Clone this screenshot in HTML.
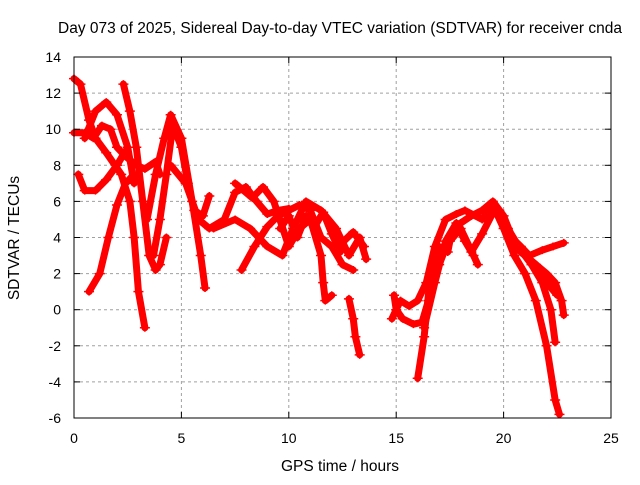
<!DOCTYPE html>
<html><head><meta charset="utf-8"><style>
body{margin:0;background:#fff;}
svg text{font-family:"Liberation Sans",sans-serif;font-size:14px;fill:#000;}
svg text.big{font-size:15.5px;}
</style></head><body>
<svg id="chart" width="640" height="480" viewBox="0 0 640 480" xmlns="http://www.w3.org/2000/svg">
<rect width="640" height="480" fill="#fff"/>
<text class="big" x="340" y="33" text-anchor="middle">Day 073 of 2025, Sidereal Day-to-day VTEC variation (SDTVAR) for receiver cnda</text>
<g id="grid"></g>
<g id="series"></g>
<rect x="74" y="57" width="537" height="361" fill="none" stroke="#000" stroke-width="1"/>
<g id="ticks"></g>
<text class="big" x="340" y="471" text-anchor="middle">GPS time / hours</text>
<text class="big" transform="translate(19,238) rotate(-90)" text-anchor="middle">SDTVAR / TECUs</text>
</svg>
<script>
const xTicks=[0,5,10,15,20,25];
const yTicks=[-6,-4,-2,0,2,4,6,8,10,12,14];
const trackA=[[0,12.8],[0.3,12.5],[0.7,10.5],[1.0,9.5],[1.5,8.7],[2.2,7.5],[2.6,6],[2.8,4],[3.0,1],[3.3,-1]];
const trackB=[[0,9.8],[0.5,9.8],[0.9,9.5],[1.3,10.2],[1.7,10],[2.0,9],[2.4,8.5],[2.9,8],[3.3,7.8],[3.8,8.2],[4.0,7.5]];
const trackC=[[0.2,7.5],[0.5,6.6],[1.0,6.6],[1.5,7.2],[2.0,8],[2.4,8.8]];
const trackD=[[0.7,1],[1.2,2],[1.6,4],[2.0,5.8],[2.4,7],[2.8,7.5]];
const trackE=[[2.3,12.5],[2.6,11],[2.9,9],[3.2,6],[3.5,3],[3.8,2.2],[4.0,2.5],[4.3,4]];
const trackF=[[0.5,9.5],[1.0,11],[1.5,11.5],[2.0,10.8],[2.5,9],[2.8,7]];
const trackG=[[3.4,5],[3.8,7.5],[4.2,9.5],[4.5,10.8],[5.0,9.5],[5.5,6],[5.9,3],[6.1,1.2]];
const trackH=[[3.7,3],[4.0,5],[4.3,7.5],[4.6,10.2],[5.0,9],[5.3,7],[5.6,5.5],[6.0,5.2],[6.3,6.3]];
const trackI=[[4.5,8],[5.2,7],[5.8,5],[6.3,4.5],[7.0,5],[7.5,6.5],[8.0,6.8],[8.5,6],[9.0,5.3],[9.5,5.5],[10.0,5.6]];
const trackJ=[[7.8,2.2],[8.4,3.5],[9.0,4.6],[9.5,5.2],[10.5,5.8],[11,5.5],[11.5,4],[12,3.5],[12.5,2.5],[13.0,2.2]];
const trackK=[[7.5,7],[8.3,6.2],[8.8,6.8],[9.3,6],[10,3.5],[10.5,4.5],[11,5],[11.5,3],[11.6,1.5],[11.7,0.5],[12,0.8]];
const trackL=[[6.5,4.5],[7.5,5],[8.2,4.5],[9.0,3.5],[9.7,3],[10.2,4.5],[10.8,6],[11.5,5.5],[12.2,4.5],[12.8,3],[13.3,4],[13.6,2.8]];
const trackM=[[12.8,0.6],[13.0,-0.5],[13.1,-1.5],[13.3,-2.5]];
const trackN=[[12.3,3.5],[13,4.3],[13.5,3.5]];
const trackO=[[9.6,4.5],[10.0,5.2],[10.4,4.0],[10.8,5.2],[11.2,4.6],[11.6,5.4],[12.0,4.2],[12.4,3.2]];
const trackP=[[14.9,0.8],[15.0,0],[15.3,-0.5],[15.8,-0.8],[16.2,-0.7],[16.5,0.5],[17,2.5],[17.5,4],[18,4.8],[18.5,5.2],[19,5.5],[19.5,6],[20,5.2],[20.4,4],[21,3],[21.5,2.5],[22,1.5],[22.5,0.8]];
const trackQ=[[14.8,-0.5],[15.2,0.5],[15.6,0.2],[16.0,0.5],[16.4,1.5],[16.8,3.5],[17.3,5],[17.8,5.3],[18.2,5.5],[19,5],[19.5,5.8],[20,4.5],[20.5,3],[21,2],[21.5,0.5],[22,-2],[22.4,-5],[22.6,-5.8]];
const trackR=[[16.0,-3.8],[16.3,-1.5],[16.6,2],[17,3.5],[17.4,3.2],[17.5,3.8],[18,4.5],[18.6,3],[18.8,2.5]];
const trackS=[[16.3,-1.0],[16.8,1.5],[17.3,3.8],[17.8,4.8],[18.2,3.8],[18.5,3.2],[19,4.2],[19.6,5.6],[20.2,4.5],[20.8,3.3],[21.3,2.5],[21.8,1.5],[22.2,0],[22.4,-1.8]];
const trackT=[[19.2,5.5],[19.8,5.5],[20.2,4.2],[20.8,3.5],[21.2,3.0],[21.8,3.3],[22.3,3.5],[22.8,3.7]];
const trackU=[[20.5,3.5],[21.5,2.5],[22,2],[22.4,1.5],[22.7,0.5],[22.8,-0.3]];
const tracks=[trackA,trackB,trackC,trackD,trackE,trackF,trackG,trackH,trackI,trackJ,trackK,trackL,trackM,trackN,trackO,trackP,trackQ,trackR,trackS,trackT,trackU];

const X0=74,X1=611,Y0=418,Y1=57;
const xs=v=>X0+(v-0)/(25-0)*(X1-X0);
const ys=v=>Y0-(v-(-6))/(14-(-6))*(Y0-Y1);
const NS="http://www.w3.org/2000/svg";
const grid=document.getElementById('grid'),ticks=document.getElementById('ticks'),series=document.getElementById('series');
function mk(tag,attrs,parent){const e=document.createElementNS(NS,tag);for(const k in attrs)e.setAttribute(k,attrs[k]);parent.appendChild(e);return e;}
xTicks.forEach(t=>{
  const x=xs(t);
  if(t>0&&t<25){const g=mk('line',{x1:x,x2:x,y1:Y1,y2:Y0,stroke:'#a0a0a0','stroke-dasharray':'3,3'},grid);
  
  }
  mk('line',{x1:x,x2:x,y1:Y0,y2:Y0-6,stroke:'#000'},ticks);
  mk('line',{x1:x,x2:x,y1:Y1,y2:Y1+6,stroke:'#000'},ticks);
  const l=mk('text',{x:x,y:Y0+25,'text-anchor':'middle'},ticks);l.textContent=t;
  
  
});
yTicks.forEach(t=>{
  const y=ys(t);
  if(t>-6&&t<14){const g=mk('line',{x1:X0,x2:X1,y1:y,y2:y,stroke:'#a0a0a0','stroke-dasharray':'3,3'},grid);
  
  }
  mk('line',{x1:X0,x2:X0+6,y1:y,y2:y,stroke:'#000'},ticks);
  mk('line',{x1:X1,x2:X1-6,y1:y,y2:y,stroke:'#000'},ticks);
  const l=mk('text',{x:X0-13,y:y+5,'text-anchor':'end'},ticks);l.textContent=t;
  
  
});
tracks.forEach((tr,i)=>{
  const p=mk('polyline',{points:tr.map(d=>xs(d[0])+','+ys(d[1])).join(' '),fill:'none',stroke:'#ff0000','stroke-width':7,'stroke-linejoin':'round','stroke-linecap':'round'},series);
  
  
  tr.forEach(d=>{
    const m=mk('path',{d:`M${xs(d[0])-5},${ys(d[1])}h10M${xs(d[0])},${ys(d[1])-4}v8`,stroke:'#ff0000','stroke-width':1.5},series);
    
    
  });
});
</script>
</body></html>
